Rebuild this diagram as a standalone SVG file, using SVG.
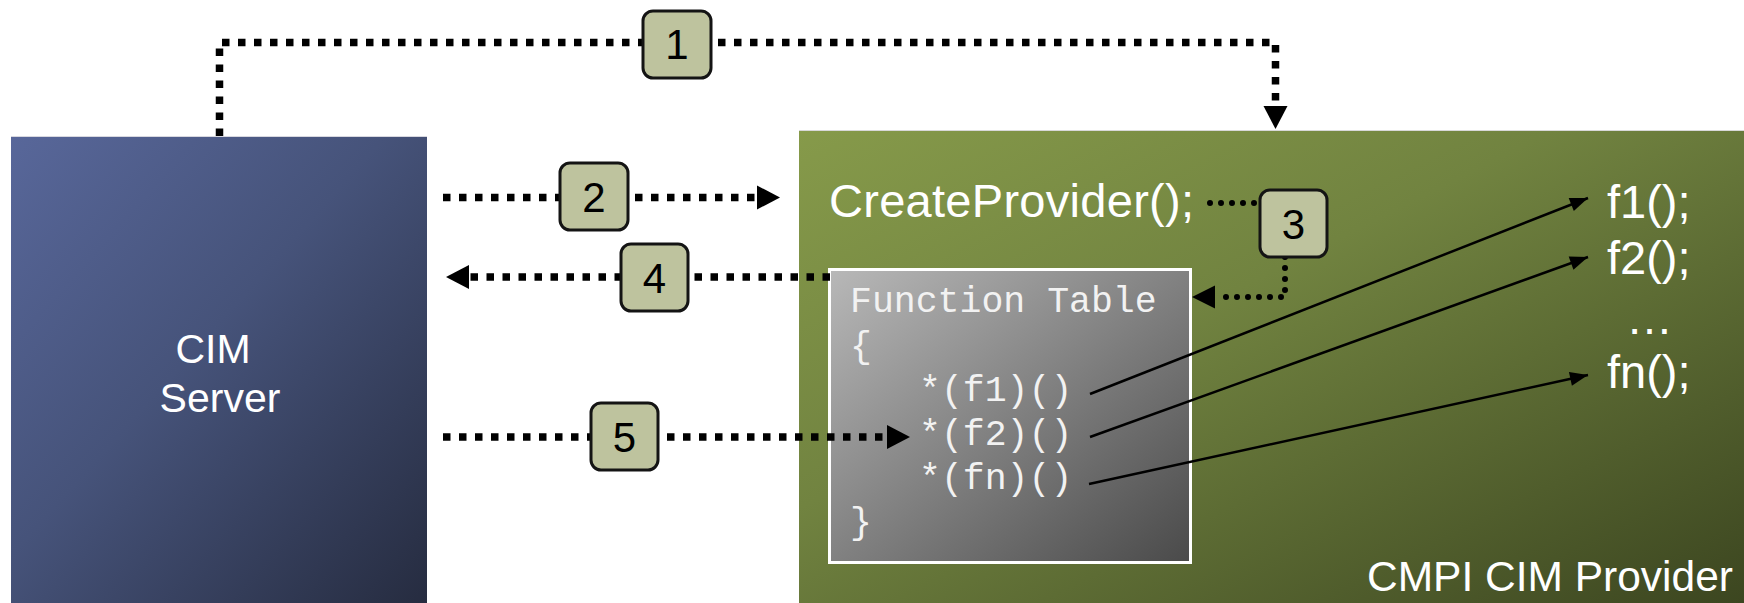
<svg xmlns="http://www.w3.org/2000/svg" width="1744" height="603" viewBox="0 0 1744 603">
  <defs>
    <linearGradient id="gBlue" x1="0" y1="0" x2="1" y2="1">
      <stop offset="0" stop-color="#58679a"/>
      <stop offset="0.45" stop-color="#46537a"/>
      <stop offset="1" stop-color="#262c40"/>
    </linearGradient>
    <linearGradient id="gGreen" x1="0" y1="0" x2="1" y2="1">
      <stop offset="0" stop-color="#869a4a"/>
      <stop offset="0.4" stop-color="#718340"/>
      <stop offset="1" stop-color="#3c4620"/>
    </linearGradient>
    <linearGradient id="gGray" x1="0" y1="0" x2="1" y2="1">
      <stop offset="0" stop-color="#b8b8b8"/>
      <stop offset="1" stop-color="#4a4a4a"/>
    </linearGradient>
    <marker id="bigHead" markerUnits="userSpaceOnUse" markerWidth="24" markerHeight="26" refX="0" refY="12" orient="auto" overflow="visible">
      <path d="M0,0 L23,12 L0,24 Z" fill="#000"/>
    </marker>
    <marker id="thinHead" markerUnits="userSpaceOnUse" markerWidth="20" markerHeight="16" refX="18" refY="7" orient="auto" overflow="visible">
      <path d="M0,0 L18,7 L0,14 Z" fill="#000"/>
    </marker>
    <style>
      .sq { fill: none; stroke: #000; stroke-width: 7.5; stroke-dasharray: 7.5 8.5; }
      .rd { fill: none; stroke: #000; stroke-width: 6; stroke-linecap: round; stroke-dasharray: 0 11; }
      .solid { fill: none; stroke: #000; stroke-width: 2.5; }
      .badge rect { fill: #bec39e; stroke: #141414; stroke-width: 3; }
      .badge text { font-family: "Liberation Sans", Arial, sans-serif; font-size: 42px; fill: #000; text-anchor: middle; }
      .lbl { font-family: "Liberation Sans", Arial, sans-serif; fill: #fff; }
      .mono { font-family: "Liberation Mono", "Courier New", monospace; font-size: 36.5px; fill: #f2f2f2; }
    </style>
  </defs>

  <!-- CIM server -->
  <g id="cim-server">
    <rect x="11" y="136" width="416" height="467" fill="url(#gBlue)"/>
    <line x1="11" y1="136.5" x2="427" y2="136.5" stroke="#d8d8e0" stroke-width="1"/>
    <text class="lbl" x="213" y="363" font-size="41" text-anchor="middle">CIM</text>
    <text class="lbl" x="220" y="412" font-size="41" text-anchor="middle">Server</text>
  </g>

  <!-- CMPI provider -->
  <g id="cmpi-provider">
    <rect x="799" y="130" width="945" height="473" fill="url(#gGreen)"/>
    <line x1="799" y1="130.5" x2="1744" y2="130.5" stroke="#d8d8d8" stroke-width="1"/>
    <text class="lbl" x="829" y="217" font-size="47" textLength="365">CreateProvider();</text>
    <text class="lbl" x="1733" y="591" font-size="42.5" text-anchor="end">CMPI CIM Provider</text>
  </g>

  <!-- provider functions -->
  <g id="functions">
    <text class="lbl" x="1607" y="218" font-size="47">f1();</text>
    <text class="lbl" x="1607" y="274" font-size="47">f2();</text>
    <text class="lbl" x="1626" y="334" font-size="47">…</text>
    <text class="lbl" x="1607" y="388" font-size="47">fn();</text>
  </g>

  <!-- function table -->
  <g id="function-table">
    <rect x="829.5" y="269.5" width="361" height="293" fill="url(#gGray)" stroke="#fff" stroke-width="3"/>
    <text class="mono" x="850" y="312">Function Table</text>
    <text class="mono" x="850" y="357">{</text>
    <text class="mono" x="919" y="401">*(f1)()</text>
    <text class="mono" x="919" y="445">*(f2)()</text>
    <text class="mono" x="919" y="489">*(fn)()</text>
    <text class="mono" x="850" y="533">}</text>
  </g>

  <!-- connectors -->
  <g id="connectors">
    <path class="sq" d="M219.5,136 V42.5 H1275.5 V106" marker-end="url(#bigHead)"/>
    <path class="sq" d="M443,197.5 H757" marker-end="url(#bigHead)"/>
    <path class="sq" d="M830,277 H469" marker-end="url(#bigHead)"/>
    <path class="sq" d="M443,437 H887" marker-end="url(#bigHead)"/>
    <path class="rd" d="M1210,203 H1262"/>
    <path class="rd" d="M1285,257 V297 H1215"/>
    <path d="M1215,285.5 L1192,297 L1215,308.5 Z" fill="#000"/>
    <line class="solid" x1="1090" y1="394" x2="1588" y2="198" marker-end="url(#thinHead)"/>
    <line class="solid" x1="1090" y1="437" x2="1588" y2="257" marker-end="url(#thinHead)"/>
    <line class="solid" x1="1089" y1="484" x2="1588" y2="375" marker-end="url(#thinHead)"/>
  </g>

  <!-- step badges -->
  <g id="step-1" class="badge"><rect x="643" y="11" width="68" height="67" rx="10"/><text x="677" y="59">1</text></g>
  <g id="step-2" class="badge"><rect x="560" y="163" width="68" height="67" rx="10"/><text x="594" y="212">2</text></g>
  <g id="step-3" class="badge"><rect x="1260" y="190" width="67" height="67" rx="10"/><text x="1293.5" y="239">3</text></g>
  <g id="step-4" class="badge"><rect x="621" y="244" width="67" height="67" rx="10"/><text x="654.5" y="293">4</text></g>
  <g id="step-5" class="badge"><rect x="591" y="403" width="67" height="67" rx="10"/><text x="624.5" y="452">5</text></g>
</svg>
